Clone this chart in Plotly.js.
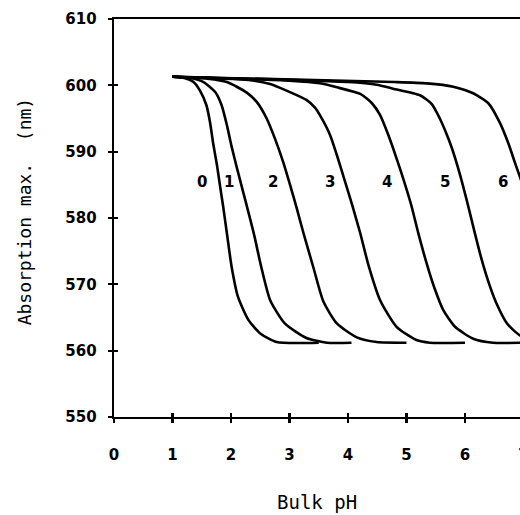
<!DOCTYPE html>
<html>
<head>
<meta charset="utf-8">
<script src="https://cdn.plot.ly/plotly-3.0.1.min.js"></script>
<style>
html,body{margin:0;padding:0;overflow:hidden;background:#fff;}
#chart{width:560px;height:515px;}
</style>
</head>
<body>
<div id="chart"></div>
<script>
// ---- data ----
const xTicks = [0, 1, 2, 3, 4, 5, 6, 7];
const yTicks = [550, 560, 570, 580, 590, 600, 610];

const pH0 = [1.0, 1.2, 1.36, 1.47, 1.58, 1.64, 1.70, 1.76, 1.81, 1.87, 1.93, 2.01, 2.12, 2.30, 2.50, 2.78, 3.5];
const nm0 = [601.3, 601.1, 600.5, 599.2, 597.0, 594.5, 591.0, 588.0, 585.0, 581.5, 577.7, 572.7, 568.1, 564.6, 562.6, 561.3, 561.2];

const pH1 = [1.0, 1.3, 1.53, 1.73, 1.84, 1.93, 2.01, 2.10, 2.20, 2.30, 2.40, 2.51, 2.67, 2.92, 3.29, 3.64, 4.06];
const nm1 = [601.3, 601.1, 600.5, 599.0, 597.0, 594.0, 590.8, 587.6, 584.2, 580.8, 577.3, 572.9, 567.6, 564.1, 561.9, 561.2, 561.2];

const pH2 = [1.0, 1.6, 1.93, 2.27, 2.44, 2.61, 2.75, 2.89, 3.01, 3.12, 3.24, 3.41, 3.58, 3.81, 4.15, 4.49, 5.0];
const nm2 = [601.3, 601.0, 600.5, 598.9, 597.5, 595.0, 592.0, 588.5, 585.0, 581.6, 577.7, 572.5, 567.4, 564.1, 562.0, 561.3, 561.2];

const pH3 = [1.0, 2.3, 2.67, 2.95, 3.29, 3.44, 3.52, 3.69, 3.81, 3.95, 4.07, 4.21, 4.35, 4.55, 4.83, 5.17, 5.40, 6.0];
const nm3 = [601.3, 600.8, 600.2, 599.2, 597.8, 596.6, 595.5, 592.6, 589.5, 585.5, 582.0, 577.7, 572.9, 567.6, 563.6, 561.6, 561.2, 561.2];

const pH4 = [1.0, 3.0, 3.52, 3.81, 4.21, 4.41, 4.55, 4.69, 4.83, 4.95, 5.08, 5.20, 5.35, 5.48, 5.63, 5.83, 6.14, 6.48, 7.0];
const nm4 = [601.3, 600.7, 600.3, 599.7, 598.7, 597.3, 595.5, 592.5, 589.0, 585.8, 582.0, 577.8, 573.0, 569.4, 566.1, 563.6, 561.8, 561.2, 561.2];

const pH5 = [1.0, 4.0, 4.49, 4.77, 5.23, 5.43, 5.57, 5.67, 5.77, 5.91, 6.03, 6.15, 6.28, 6.40, 6.53, 6.72, 6.94, 7.3, 8.0];
const nm5 = [601.3, 600.5, 600.1, 599.5, 598.5, 597.2, 595.0, 593.0, 590.7, 586.7, 582.7, 578.4, 573.9, 570.4, 567.3, 564.1, 562.3, 561.4, 561.2];

const pH6 = [1.0, 4.8, 5.35, 5.80, 6.14, 6.40, 6.60, 6.74, 6.86, 6.94, 7.1, 7.3, 7.5, 7.8, 8.2, 9.0];
const nm6 = [601.3, 600.5, 600.3, 599.8, 598.8, 597.3, 594.3, 591.3, 588.2, 586.2, 582.0, 575.0, 568.0, 563.5, 561.6, 561.2];

const curveLabels = ['0', '1', '2', '3', '4', '5', '6'];
const labelPH = [1.50, 1.97, 2.72, 3.69, 4.66, 5.66, 6.65];
const labelNm = [585.5, 585.5, 585.5, 585.5, 585.5, 585.5, 585.5];

const xTitle = 'Bulk pH';
const yTitle = 'Absorption max.  (nm)';

// ---- chart ----
const series = [[pH0, nm0], [pH1, nm1], [pH2, nm2], [pH3, nm3], [pH4, nm4], [pH5, nm5], [pH6, nm6]];
const lineStyle = {color: '#000', width: 2.6, shape: 'spline', smoothing: 0.6};
const traces = series.map((s, i) => ({
  x: s[0], y: s[1], type: 'scatter', mode: 'lines',
  line: lineStyle, hoverinfo: 'skip', showlegend: false,
  xaxis: i === 6 ? 'x2' : 'x', yaxis: i === 6 ? 'y2' : 'y'
}));

const tickFont = {family: 'DejaVu Sans', size: 15, color: '#000', weight: 'bold'};
const xr = [0, 7.3];
const yr = [550, 610];

const annotations = curveLabels.map((t, i) => ({
  x: labelPH[i], y: labelNm[i], xref: 'x', yref: 'y', text: t, showarrow: false,
  font: {family: 'DejaVu Sans', size: 15, color: '#000', weight: 'bold'},
  xanchor: 'center', yanchor: 'middle'
}));
annotations.push({
  x: 3.47, y: 0, xref: 'x', yref: 'paper', text: xTitle, showarrow: false,
  xanchor: 'center', yanchor: 'top', yshift: -72,
  font: {family: 'DejaVu Sans Mono', size: 19, color: '#000'}
});
annotations.push({
  x: 0, y: 581.0, xref: 'paper', yref: 'y', text: yTitle, showarrow: false,
  textangle: -90, xanchor: 'center', yanchor: 'middle', xshift: -90,
  font: {family: 'DejaVu Sans Mono', size: 18, color: '#000'}
});

const layout = {
  width: 560, height: 515,
  margin: {l: 114, r: 19, t: 19, b: 98},
  paper_bgcolor: '#fff', plot_bgcolor: '#fff',
  showlegend: false,
  xaxis: {
    range: xr, tickvals: xTicks, ticktext: xTicks.map(String),
    ticks: 'outside', ticklen: 4, tickwidth: 2.2, tickcolor: '#000',
    showline: true, linecolor: '#000', linewidth: 2.4, mirror: true,
    showgrid: false, zeroline: false, tickfont: tickFont,
    ticklabelstandoff: 19
  },
  yaxis: {
    range: yr, tickvals: yTicks, ticktext: yTicks.map(String),
    ticks: 'outside', ticklen: 4, tickwidth: 2.2, tickcolor: '#000',
    showline: true, linecolor: '#000', linewidth: 2.4,
    showgrid: false, zeroline: false, tickfont: tickFont,
    ticklabelstandoff: 8
  },
  xaxis2: {
    range: xr, tickvals: xTicks, overlaying: 'x', anchor: 'y2', side: 'bottom',
    ticks: 'inside', ticklen: 4, tickwidth: 2.2, tickcolor: '#000',
    showticklabels: false, showline: false, showgrid: false, zeroline: false
  },
  yaxis2: {
    range: yr, tickvals: yTicks, overlaying: 'y', anchor: 'x2', side: 'left',
    ticks: 'inside', ticklen: 4, tickwidth: 2.2, tickcolor: '#000',
    showticklabels: false, showline: false, showgrid: false, zeroline: false
  },
  annotations: annotations
};

Plotly.newPlot('chart', traces, layout, {displayModeBar: false, staticPlot: true});
</script>
</body>
</html>
